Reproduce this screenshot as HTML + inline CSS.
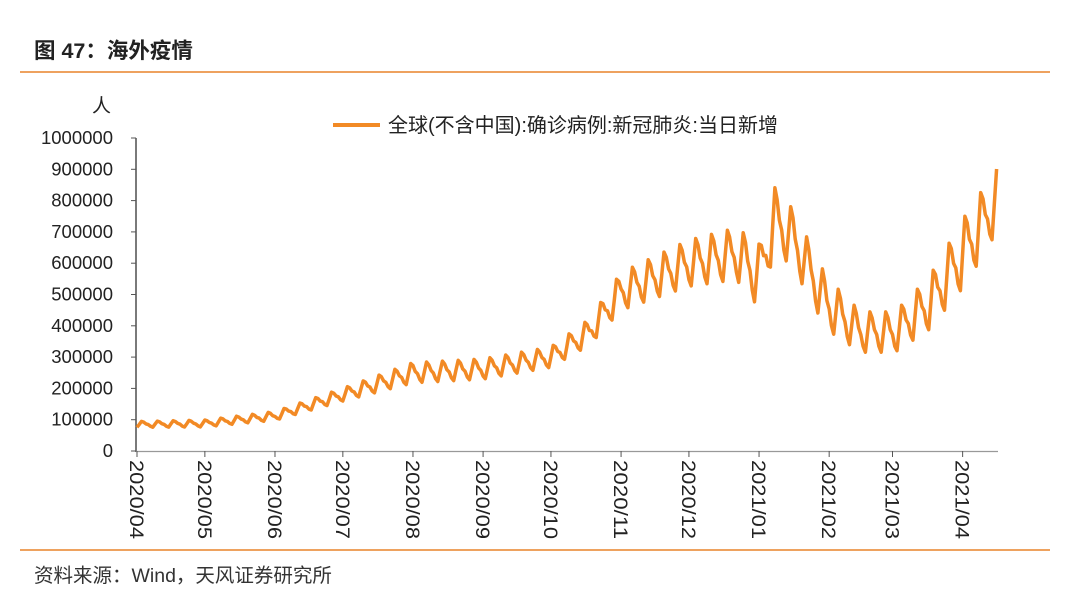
<!DOCTYPE html>
<html><head><meta charset="utf-8"><style>
body{margin:0;background:#fff;width:1080px;height:596px;overflow:hidden;font-family:"Liberation Sans","Noto Sans CJK SC",sans-serif;}
</style></head><body>
<svg width="1080" height="596" xmlns="http://www.w3.org/2000/svg" font-family="Liberation Sans, Noto Sans CJK SC, sans-serif">
<text x="34" y="58" font-size="21.5" font-weight="bold" fill="#222">图 47：海外疫情</text>
<line x1="20" y1="72" x2="1050" y2="72" stroke="#E8842A" stroke-width="1.5"/>
<line x1="20" y1="550" x2="1050" y2="550" stroke="#E8842A" stroke-width="1.5"/>
<text x="34" y="582" font-size="19.5" fill="#333">资料来源：Wind，天风证券研究所</text>
<text x="92" y="112" font-size="19" fill="#222">人</text>
<g font-size="18.5" fill="#222" text-anchor="end" id="yl"></g>
<line x1="136" y1="138" x2="136" y2="452" stroke="#333" stroke-width="1.3"/>
<line x1="136" y1="451.5" x2="998" y2="451.5" stroke="#999" stroke-width="1.3"/>
<g id="ticks" stroke="#555" stroke-width="1"></g>
<g id="xl" font-size="19" fill="#222"></g>
<line x1="333" y1="125" x2="380" y2="125" stroke="#F28A25" stroke-width="4"/>
<text x="388" y="132" font-size="20" fill="#222">全球(不含中国):确诊病例:新冠肺炎:当日新增</text>
<path id="p" fill="none" stroke="#F28A25" stroke-width="3.5" stroke-linejoin="round"/>
</svg>
<script>
var ns="http://www.w3.org/2000/svg";
function el(t,a,p,tx){var e=document.createElementNS(ns,t);for(var k in a)e.setAttribute(k,a[k]);if(tx)e.textContent=tx;document.getElementById(p).appendChild(e);}
for(var i=0;i<=10;i++){var y=451-i*31.3;el("text",{x:113,y:y+6},"yl",String(i*100000));el("line",{x1:131,y1:y,x2:136,y2:y},"ticks");}
var months=["2020/04","2020/05","2020/06","2020/07","2020/08","2020/09","2020/10","2020/11","2020/12","2021/01","2021/02","2021/03","2021/04"];
var days=[0,30,61,91,122,153,183,214,244,275,306,334,365];
var ppd=2.262,x0=137;
days.forEach(function(d,i){var x=x0+d*ppd;el("line",{x1:x,y1:451,x2:x,y2:457},"ticks");
el("text",{x:0,y:0,textLength:79,lengthAdjust:"spacingAndGlyphs",transform:"translate("+(x-7)+",460) rotate(90)"},"xl",months[i]);});
var K=[[0,85,10],[30,88,12],[61,112,15],[91,180,22],[122,250,35],[153,262,35],[183,300,35],[200,380,45],[214,510,65],[244,600,80],[265,630,90],[275,560,110],[282,740,110],[290,680,100],[305,470,90],[320,380,70],[335,380,70],[350,470,90],[366,640,120],[380,800,110],[383,830,70]];
function interp(d){for(var i=0;i<K.length-1;i++){if(d<=K[i+1][0]){var t=(d-K[i][0])/(K[i+1][0]-K[i][0]);return [K[i][1]+t*(K[i+1][1]-K[i][1]),K[i][2]+t*(K[i+1][2]-K[i][2])];}}return [K[K.length-1][1],K[K.length-1][2]];}
var s="";for(var d=0;d<=380;d++){var v=interp(d);var w=Math.sin(2*Math.PI*(d-1)/7)*0.8+Math.sin(4*Math.PI*(d-1)/7)*0.3;var val=v[0]+v[1]*w;var x=x0+d*ppd,y=451-val*0.313;s+=(d?"L":"M")+x.toFixed(1)+","+y.toFixed(1);}
document.getElementById("p").setAttribute("d",s);
</script>
</body></html>
